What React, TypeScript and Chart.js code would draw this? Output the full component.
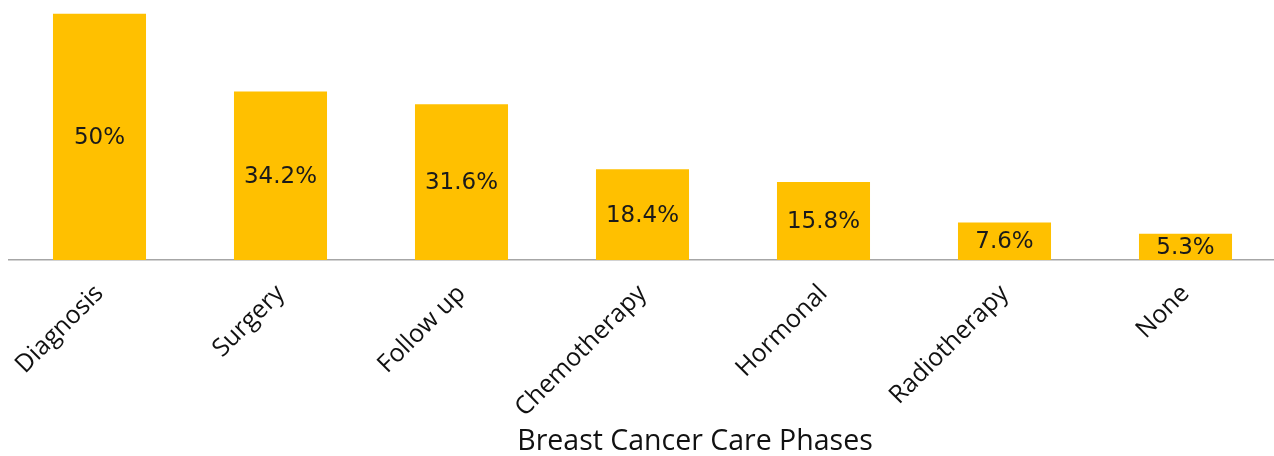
import React, { useEffect, useRef } from "react";
import { Chart, registerables } from "chart.js";

Chart.register(...registerables);

const categories = ["Diagnosis", "Surgery", "Follow up", "Chemotherapy", "Hormonal", "Radiotherapy", "None"];
const percentages = [50, 34.2, 31.6, 18.4, 15.8, 7.6, 5.3];
const axisTitle = "Breast Cancer Care Phases";

const barLabelPlugin = {
  id: "barLabels",
  afterDatasetsDraw(chart: any) {
    const ctx = chart.ctx;
    const meta = chart.getDatasetMeta(0);
    ctx.save();
    ctx.font = "23px 'DejaVu Sans'";
    ctx.fillStyle = "#1a1a1a";
    ctx.textAlign = "center";
    ctx.textBaseline = "middle";
    meta.data.forEach((bar: any, i: number) => {
      const v = chart.data.datasets[0].data[i];
      ctx.fillText(`${v}%`, bar.x, (bar.y + bar.base) / 2 + 1);
    });
    ctx.restore();
  },
};

const axisTitlePlugin = {
  id: "axisTitleOffset",
  afterDraw(chart: any, _args: any, opts: any) {
    const ctx = chart.ctx;
    ctx.save();
    ctx.font = opts.font;
    ctx.fillStyle = opts.color;
    ctx.textAlign = "center";
    ctx.textBaseline = "alphabetic";
    ctx.fillText(opts.text, opts.x, opts.y);
    ctx.restore();
  },
};

export default function App() {
  const ref = useRef<HTMLCanvasElement | null>(null);
  useEffect(() => {
    if (!ref.current) return;
    const chart = new Chart(ref.current, {
      type: "bar",
      data: {
        labels: categories,
        datasets: [
          {
            data: percentages,
            backgroundColor: "#FFC000",
            borderWidth: 0,
            barPercentage: 0.514,
            categoryPercentage: 1,
          },
        ],
      },
      plugins: [barLabelPlugin, axisTitlePlugin],
      options: {
        animation: false,
        responsive: true,
        maintainAspectRatio: false,
        layout: { padding: { left: 9, right: 1, top: 13.5, bottom: 0 } },
        plugins: {
          legend: { display: false },
          tooltip: { enabled: false },
          axisTitleOffset: {
            text: axisTitle,
            font: "28.5px 'Open Sans'",
            color: "#111111",
            x: 695,
            y: 450,
          },
        } as any,
        scales: {
          x: {
            grid: { display: false, drawTicks: false },
            border: { display: true, color: "#A6A6A6", width: 1.5 },
            ticks: {
              autoSkip: false,
              minRotation: 45,
              maxRotation: 45,
              padding: 19,
              labelOffset: 0,
              color: "#111111",
              font: { family: "'Open Sans'", size: 25 },
            },
            afterFit: (scale: any) => {
              scale.height = 196;
            },
          },
          y: {
            display: false,
            min: 0,
            max: 50,
          },
        },
      },
    });
    return () => chart.destroy();
  }, []);
  return (
    <div style={{ position: "fixed", left: 0, top: 0, width: 1274, height: 456, overflow: "hidden", background: "#fff" }}>
      <div style={{ position: "relative", width: 1277, height: 456 }}>
        <canvas ref={ref} />
      </div>
    </div>
  );
}
